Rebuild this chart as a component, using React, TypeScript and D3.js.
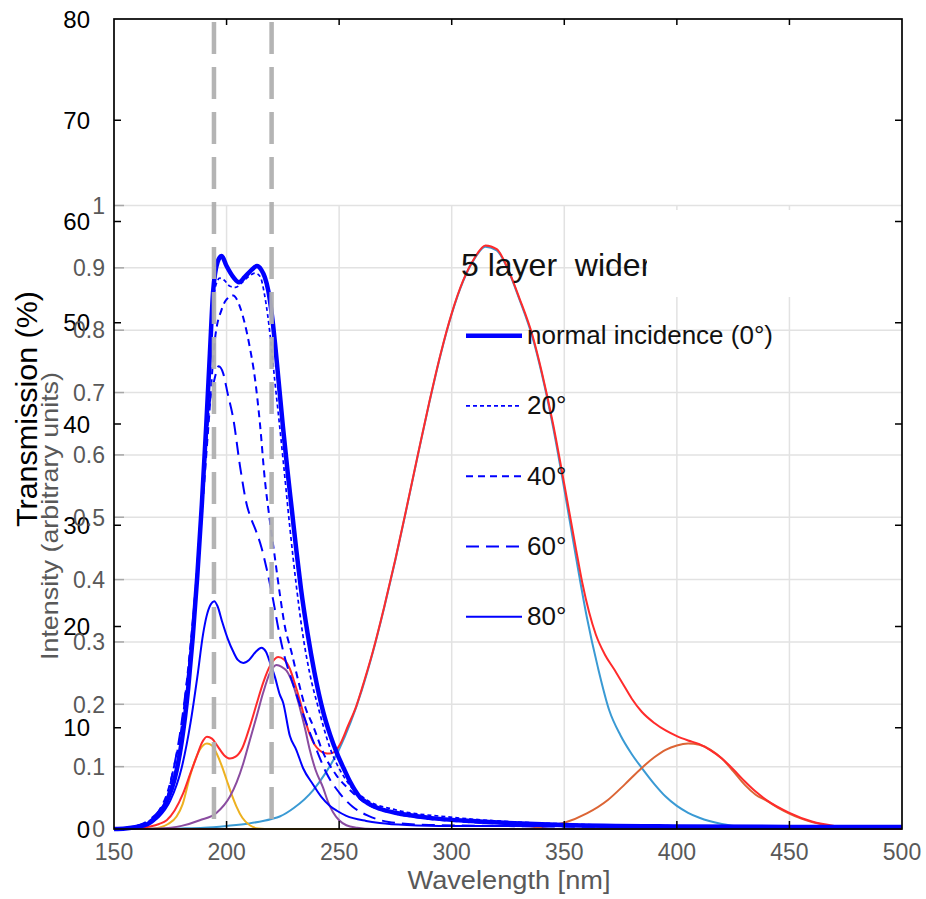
import React from 'react'
import * as d3 from 'd3'

const width = 926
const height = 899

type Pt = [number, number]

// Transmission (%) per angle of incidence, [wavelength nm, %]
const trans0: Pt[] = [[150,0],[155,0.05],[160,0.2],[165,0.5],[170,1.5],[174,3],[177,5],[180,8.5],[183,14],[185,19],[187,25],[189,32],[191,40],[192.6,47],[194,53],[196,56],[197.8,56.6],[200,55.6],[203,54.5],[205.5,54.0],[208,54.5],[211,55.2],[213.5,55.6],[215.5,55.2],[217,54.5],[218.5,53.2],[220,51],[221.5,48],[223,44.5],[225,39.8],[227,35.5],[229,31.5],[231,27.5],[233,23.8],[236,19.3],[239,15.5],[243,11.5],[246,9.3],[249,7.5],[252,6],[255,4.6],[259,3.2],[263,2.5],[268,2.0],[275,1.6],[290,1.1],[312,0.75],[350,0.4],[400,0.25],[450,0.2],[500,0.2]]
const trans20: Pt[] = [[150,0],[155,0.05],[160,0.25],[165,0.6],[170,1.7],[174,3.3],[177,5.5],[180,9],[183,15],[185,20],[187,26],[189,33],[191,41],[193,49],[195,53.5],[197,54.4],[199,54.2],[201.5,53.6],[204,53.5],[207,54],[210,54.6],[212.6,54.9],[214.8,54.6],[217,52.6],[219.5,48.5],[221.4,44.3],[223,41],[225.1,36.5],[228.1,29.8],[231,24],[234,19],[237,15.3],[240.6,12.1],[245.8,8.1],[253.2,4.8],[262,2.9],[275,1.9],[298,1.2],[320,0.8],[350,0.5],[400,0.3],[500,0.2]]
const trans40: Pt[] = [[150,0],[160,0.3],[165,0.7],[170,1.8],[174,3.8],[177,6.5],[180,10],[183,16],[186,23],[189,31],[192,40],[194.8,48.3],[197.8,51.3],[200,52.3],[202.9,52.7],[205.9,51.6],[208,50],[210.3,47.6],[212.6,44.5],[214.8,40.1],[217,34.5],[219.2,30.5],[221.4,26.9],[223.6,23.3],[225.9,20],[228.8,17.5],[232,14.5],[235,12],[238.4,10.2],[243,7.5],[248.8,5.3],[255,3.8],[262.1,2.5],[270,1.8],[282.8,1.2],[300,0.8],[330,0.5],[400,0.3],[500,0.2]]
const trans60: Pt[] = [[150,0],[160,0.3],[165,0.8],[170,1.8],[173.4,2.9],[176,5.5],[179.3,9.4],[181.5,13],[183.7,17],[186,23],[188,29],[190,35],[192.6,42.2],[194.5,44.3],[196.5,45.7],[198.5,45],[200.5,43],[203,40.5],[206,35.8],[209,32],[211,30.6],[213.3,29.3],[215.5,27.8],[217.7,25.8],[220.7,22.6],[223,19.8],[225.1,17.6],[230,14],[235.5,10.4],[240,7.8],[244.4,5.5],[250,3.6],[256,2.2],[263,1.3],[272,0.7],[290,0.4],[320,0.3],[400,0.2],[500,0.2]]
const trans80: Pt[] = [[150,0],[160,0.2],[165,0.5],[170,1.2],[175,2.8],[180,6],[184,10.5],[187,15],[189.6,19.3],[191.1,21],[193,22.2],[194.5,22.5],[196,22],[198,20.5],[200.5,18.8],[203,17.5],[205,16.7],[207.4,16.4],[210,16.7],[213,17.5],[215.5,17.9],[217.5,17.5],[219.5,16.3],[221.5,15],[223.6,13.3],[225.1,12.5],[228.1,9.2],[231,7.8],[234,6],[238.4,4.4],[242,3.2],[245.8,2.3],[249,1.8],[253.2,1.3],[262,0.8],[268,0.6],[280,0.4],[300,0.3],[500,0.2]]

// Intensity (arbitrary units), [wavelength nm, value]
const peakYellow: Pt[] = [[150,0],[165,0],[170,0.002],[174,0.008],[177.8,0.02],[180.5,0.04],[183.7,0.084],[186,0.11],[188.1,0.127],[191.3,0.137],[193.5,0.134],[195.6,0.121],[198,0.1],[200,0.079],[202.2,0.056],[204.4,0.036],[207,0.018],[210.3,0.006],[214,0.001],[220,0],[500,0]]
const peakPurple: Pt[] = [[150,0],[170,0.001],[180,0.005],[188.1,0.014],[195.6,0.026],[201.5,0.052],[204.5,0.075],[207.4,0.105],[210.3,0.142],[213.3,0.18],[216.2,0.218],[219.2,0.25],[222.2,0.263],[224.5,0.26],[226.6,0.254],[229.5,0.232],[232.5,0.195],[234.8,0.162],[236.9,0.128],[239.5,0.095],[242.9,0.066],[245,0.044],[247.3,0.027],[250,0.014],[253.2,0.006],[258,0.002],[265,0],[500,0]]
const peakBlue: Pt[] = [[150,0],[180,0.001],[190,0.002],[200,0.005],[210,0.009],[220,0.016],[223.6,0.02],[230,0.034],[238.4,0.062],[244,0.09],[250,0.128],[255,0.17],[260,0.222],[265,0.284],[270,0.355],[275,0.432],[280,0.515],[285,0.6],[290,0.683],[295,0.76],[300,0.826],[305,0.878],[310,0.914],[315,0.934],[320,0.928],[325,0.897],[330,0.85],[336,0.787],[340,0.73],[345,0.645],[350,0.545],[355,0.44],[360,0.34],[365,0.258],[370,0.19],[375,0.15],[380,0.12],[384.4,0.098],[390,0.072],[395,0.052],[400,0.037],[405,0.026],[410,0.018],[420,0.008],[430,0.003],[440,0.001],[460,0],[500,0]]
const peakOrange: Pt[] = [[150,0],[330,0],[340,0.003],[350,0.01],[360,0.025],[369.5,0.047],[377,0.072],[384.4,0.098],[390,0.115],[395,0.127],[400,0.134],[405,0.137],[410,0.135],[415,0.127],[420,0.113],[425,0.093],[430.4,0.07],[435,0.055],[440,0.045],[445,0.034],[450.4,0.024],[455,0.017],[460,0.011],[465,0.007],[474,0.002],[485,0.0005],[500,0]]
const peakSum: Pt[] = [[150,0],[160,0.001],[166,0.004],[170,0.008],[173.4,0.014],[177,0.03],[180.7,0.057],[184,0.09],[186.7,0.116],[189,0.138],[191.3,0.148],[193.5,0.145],[196,0.133],[199,0.118],[201.5,0.113],[204,0.116],[207,0.13],[210.3,0.164],[213.3,0.2],[216.2,0.234],[219.5,0.263],[222.9,0.276],[225.5,0.272],[228.1,0.257],[230,0.237],[232.5,0.207],[234.5,0.18],[236.9,0.152],[239,0.136],[241.4,0.126],[243.5,0.122],[245.8,0.121],[248,0.124],[250.3,0.135],[254,0.166],[257.7,0.198],[260,0.224],[265,0.285],[270,0.356],[275,0.433],[280,0.516],[285,0.601],[290,0.684],[295,0.761],[300,0.827],[305,0.879],[310,0.915],[315,0.936],[320,0.93],[325,0.898],[330,0.852],[336,0.79],[340,0.733],[345,0.65],[350,0.553],[355,0.453],[358,0.395],[361,0.348],[364,0.312],[368,0.28],[372,0.257],[376,0.233],[380,0.209],[384.4,0.188],[390,0.17],[395,0.158],[400,0.149],[405,0.142],[410,0.136],[415,0.126],[420,0.113],[425,0.096],[430,0.077],[435,0.06],[440,0.046],[450,0.026],[460,0.012],[470,0.005],[480,0.002],[490,0.0005],[500,0]]

const angleLabels = ['normal incidence (0°)', '20°', '40°', '60°', '80°']
const markers = [194.4, 220]
const wavelengthTicks = [150, 200, 250, 300, 350, 400, 450, 500]
const transTicks = [0, 10, 20, 30, 40, 50, 60, 70, 80]
const intensityTicks = [0, 0.1, 0.2, 0.3, 0.4, 0.5, 0.6, 0.7, 0.8, 0.9, 1]
const intensityLabels = ['0', '0.1', '0.2', '0.3', '0.4', '0.5', '0.6', '0.7', '0.8', '0.9', '1']

const transSeries = [trans0, trans20, trans40, trans60, trans80]
const transStyle = [
  { w: 4.5, dash: undefined },
  { w: 1.7, dash: '4 3' },
  { w: 2, dash: '7 5' },
  { w: 2, dash: '13 7' },
  { w: 2, dash: undefined },
]
const peaks = [
  { data: peakBlue, color: '#3a9ad4' },
  { data: peakOrange, color: '#dc6535' },
  { data: peakYellow, color: '#edb120' },
  { data: peakPurple, color: '#8a4ca0' },
  { data: peakSum, color: '#ff2b2b' },
]

const font = '"Liberation Sans", Arial, sans-serif'
const grey = '#595959'

export default function App() {
  const x = d3.scaleLinear().domain([150, 500]).range([114, 902])
  const yT = d3.scaleLinear().domain([0, 80]).range([829, 19])
  const yI = d3.scaleLinear().domain([0, 1]).range([829, 205.5])

  const lineT = d3.line<Pt>().x(d => x(d[0])).y(d => yT(d[1])).curve(d3.curveMonotoneX)
  const lineI = d3.line<Pt>().x(d => x(d[0])).y(d => yI(d[1])).curve(d3.curveMonotoneX)

  const [x0, x1] = x.range()
  const [yb, yt] = yT.range()

  return (
    <>
      <style>{`body{margin:0}`}</style>
      <svg width={width} height={height} style={{ display: 'block', fontFamily: font }}>
        <defs>
          <clipPath id="titleClip">
            <rect x={0} y={0} width={647} height={height} />
          </clipPath>
        </defs>
        <rect width={width} height={height} fill="#fff" />

        {/* inner chart grid */}
        <g stroke="#e2e2e2" strokeWidth={1.5}>
          {intensityTicks.filter(t => t > 0).map(t => (
            <line key={t} x1={x0} x2={x1} y1={yI(t)} y2={yI(t)} />
          ))}
          {wavelengthTicks.slice(1, -1).map(t => (
            <line key={t} x1={x(t)} x2={x(t)} y1={yI(1)} y2={yb} />
          ))}
        </g>
        <g stroke="#a8a8a8" strokeWidth={1.5}>
          {intensityTicks.map(t => (
            <line key={t} x1={x0} x2={x0 + 10} y1={yI(t)} y2={yI(t)} />
          ))}
        </g>

        {/* intensity peaks */}
        {peaks.map((p, i) => (
          <path key={i} d={lineI(p.data) || ''} fill="none" stroke={p.color} strokeWidth={2} />
        ))}

        {/* transmission curves */}
        {transSeries.map((s, i) => (
          <path key={i} d={lineT(s) || ''} fill="none" stroke="#0000ff"
            strokeWidth={transStyle[i].w} strokeDasharray={transStyle[i].dash} strokeLinejoin="round" />
        ))}

        {/* title */}
        <text x={461} y={276} fontSize={32} fill="#111" clipPath="url(#titleClip)" style={{ whiteSpace: 'pre' }}>
          {'5 layer  wider'}
        </text>
        <rect x={647} y={210} width={x1 - 647} height={87} fill="#fff" />

        {/* legend */}
        {angleLabels.map((label, i) => {
          const ly = 335.7 + i * 70.25
          return (
            <g key={label}>
              <line x1={466} x2={522} y1={ly} y2={ly} stroke="#0000ff"
                strokeWidth={transStyle[i].w} strokeDasharray={transStyle[i].dash} />
              <text x={527} y={ly + 8.5} fontSize={26} fill="#111">{label}</text>
            </g>
          )
        })}

        {/* marker lines */}
        {markers.map(m => (
          <line key={m} x1={x(m)} x2={x(m)} y1={yt + 3} y2={yb} stroke="#b0b0b0"
            strokeWidth={4.5} strokeDasharray="32 13" opacity={0.95} />
        ))}

        {/* outer frame and ticks */}
        <rect x={x0} y={yt} width={x1 - x0} height={yb - yt} fill="none" stroke="#000" strokeWidth={1.7} />
        <g stroke="#000" strokeWidth={1.5}>
          {transTicks.slice(1, -1).map(t => (
            <g key={t}>
              <line x1={x0} x2={x0 + 7} y1={yT(t)} y2={yT(t)} />
              <line x1={x1} x2={x1 - 7} y1={yT(t)} y2={yT(t)} />
            </g>
          ))}
          {wavelengthTicks.slice(1, -1).map(t => (
            <g key={t}>
              <line x1={x(t)} x2={x(t)} y1={yt} y2={yt + 6} />
              <line x1={x(t)} x2={x(t)} y1={yb} y2={yb - 8} />
            </g>
          ))}
        </g>

        {/* outer y labels */}
        {transTicks.map(t => (
          <text key={t} x={90} y={yT(t)} dy="0.36em" fontSize={24} textAnchor="end" fill="#000">{t}</text>
        ))}
        {/* inner y labels */}
        {intensityTicks.map((t, i) => (
          <text key={t} x={105} y={yI(t)} dy="0.36em" fontSize={23} textAnchor="end" fill={grey}>{intensityLabels[i]}</text>
        ))}
        {/* x labels */}
        {wavelengthTicks.map(t => (
          <text key={t} x={x(t)} y={851.5} dy="0.36em" fontSize={23} textAnchor="middle" fill={grey}>{t}</text>
        ))}
        <text x={509} y={889} fontSize={25} textAnchor="middle" fill={grey} textLength={203} lengthAdjust="spacingAndGlyphs">
          Wavelength [nm]
        </text>
        <text transform="translate(58,516) rotate(-90)" fontSize={24} textAnchor="middle" fill={grey}
          textLength={288} lengthAdjust="spacingAndGlyphs">
          Intensity (arbitrary units)
        </text>
        <text transform="translate(37,409) rotate(-90)" fontSize={30} textAnchor="middle" fill="#000"
          textLength={236} lengthAdjust="spacingAndGlyphs">
          Transmission (%)
        </text>
      </svg>
    </>
  )
}
